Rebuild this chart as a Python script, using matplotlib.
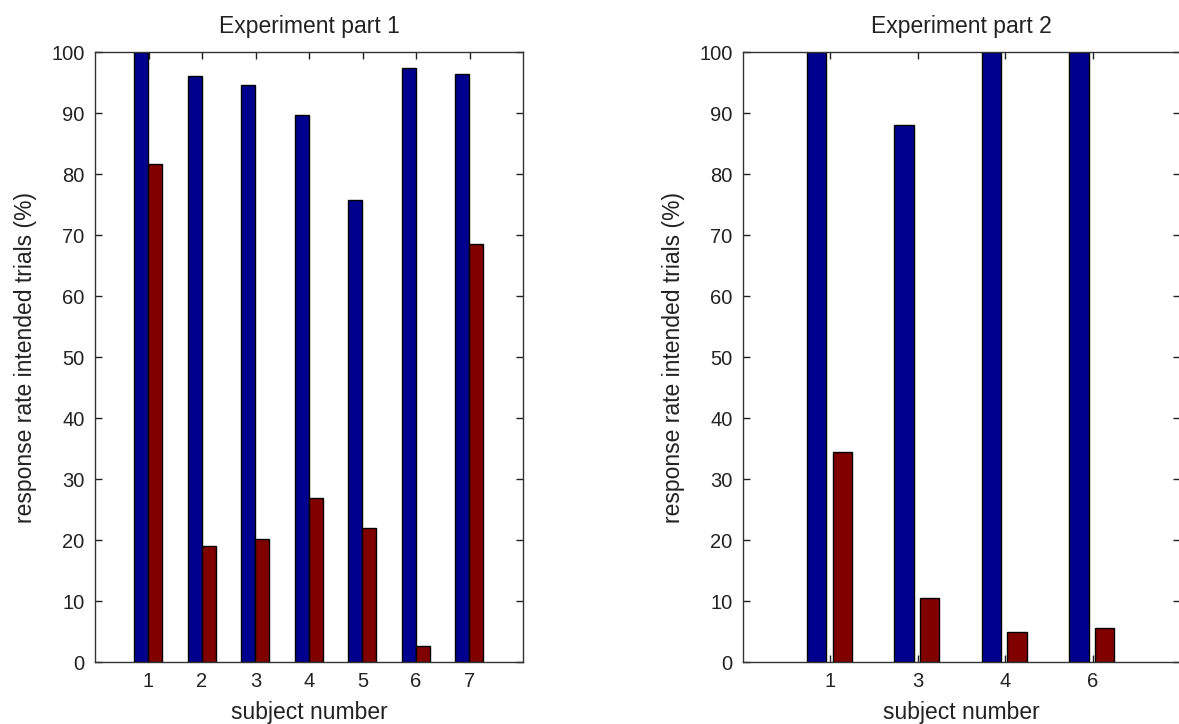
import matplotlib
matplotlib.use("Agg")
import matplotlib.pyplot as plt
import numpy as np

plt.rcParams['font.family'] = ['Liberation Sans', 'DejaVu Sans']

# Experiment part 1
subjects1 = ["1", "2", "3", "4", "5", "6", "7"]
blue1 = [100.0, 96.0, 94.6, 89.6, 75.8, 97.4, 96.4]
red1 = [81.6, 19.0, 20.2, 26.9, 22.0, 2.7, 68.5]

# Experiment part 2
subjects2 = ["1", "3", "4", "6"]
blue2 = [100.0, 88.0, 100.0, 100.0]
red2 = [34.5, 10.5, 4.9, 5.6]

titles = ["Experiment part 1", "Experiment part 2"]
xlabel = "subject number"
ylabel = "response rate intended trials (%)"
yticks = list(range(0, 101, 10))

BLUE = "#00008f"
RED = "#800000"

fig = plt.figure(figsize=(11.79, 7.24), dpi=100)
ax1 = fig.add_axes([95/1179, 61.7/724, 428/1179, 610.3/724])
ax2 = fig.add_axes([743/1179, 61.7/724, 437/1179, 610.3/724])

TICK_FS = 14.5
TITLE_FS = 16.5
LABEL_FS = 16.5

def style(ax, labels, title, width_off, bw, blue, red):
    x = np.arange(1, len(labels) + 1)
    ax.bar(x - width_off[0], blue, width=bw, color=BLUE, edgecolor="black", linewidth=1.0, zorder=2)
    ax.bar(x + width_off[1], red, width=bw, color=RED, edgecolor="black", linewidth=1.0, zorder=2)
    ax.set_xlim(0, len(labels) + 1)
    ax.set_ylim(0, 100)
    ax.set_xticks(x)
    ax.set_xticklabels(labels)
    ax.set_yticks(yticks)
    ax.tick_params(direction="in", top=True, right=True, length=5, width=1,
                   labelsize=TICK_FS, colors="#222222")
    ax.tick_params(axis="x", pad=7)
    ax.tick_params(axis="y", pad=7.5)
    for s in ax.spines.values():
        s.set_linewidth(1.0)
        s.set_color("#333333")
    ax.set_title(title, fontsize=TITLE_FS, pad=14, color="#222222")
    ax.set_xlabel(xlabel, fontsize=LABEL_FS, labelpad=7, color="#222222")
    ax.set_ylabel(ylabel, fontsize=LABEL_FS, labelpad=10, color="#222222")

style(ax1, subjects1, titles[0], (0.135, 0.125), 0.26, blue1, red1)
style(ax2, subjects2, titles[1], (0.157, 0.137), 0.222, blue2, red2)

fig.savefig("out.png", dpi=100)
